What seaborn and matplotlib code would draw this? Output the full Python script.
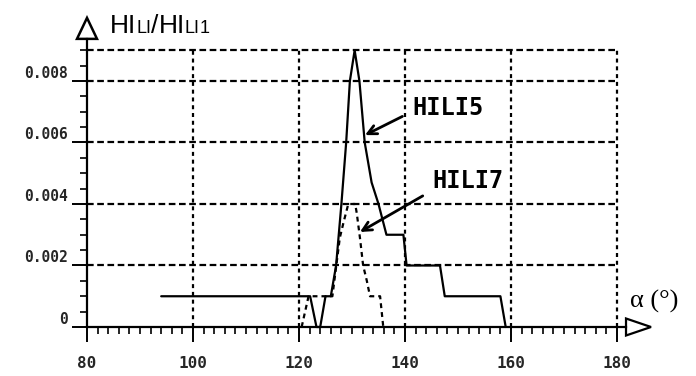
import matplotlib
matplotlib.use("Agg")
import matplotlib.pyplot as plt
from matplotlib.patches import Polygon
from matplotlib.ticker import FixedLocator
import pandas as pd
import seaborn as sns

# Ratio curves against the angle alpha (degrees)
hili5_angle = [94.0, 122.1, 123.3, 124.0, 125.0, 126.0, 127.0, 128.0, 128.9, 129.6,
               130.5, 131.4, 132.4, 133.7, 135.0, 136.5, 139.7, 140.3, 146.6, 147.5,
               158.0, 159.0]
hili5_ratio = [0.001, 0.001, 0.0, 0.0, 0.001, 0.001, 0.002, 0.004, 0.006, 0.008,
               0.009, 0.008, 0.006, 0.0047, 0.004, 0.003, 0.003, 0.002, 0.002, 0.001,
               0.001, 0.0]

hili7_angle = [120.5, 121.8, 126.3, 127.7, 128.4, 129.3, 130.6, 130.9, 131.5, 132.1,
               132.8, 133.4, 135.3, 135.9]
hili7_ratio = [0.0, 0.001, 0.001, 0.0029, 0.0034, 0.004, 0.004, 0.0037, 0.0029, 0.002,
               0.0015, 0.001, 0.001, 0.0]

x_ticks = [80, 100, 120, 140, 160, 180]
x_tick_labels = ["80", "100", "120", "140", "160", "180"]
y_ticks = [0.0, 0.002, 0.004, 0.006, 0.008]
y_tick_labels = ["0", "0.002", "0.004", "0.006", "0.008"]
grid_x = [100, 120, 140, 160, 180]
grid_y = [0.002, 0.004, 0.006, 0.008, 0.009]

sns.set_style("ticks")
plt.rcParams["font.family"] = ["DejaVu Sans"]

W, H = 696, 376
fig = plt.figure(figsize=(W / 100, H / 100), dpi=100)

# Axes placement in pixels: 80 deg sits at x=87, ratio 0 at y=327
XLIM = (80, 186)
YLIM = (-0.00058, 0.0103)
PX_X, PX_Y = 5.3, 30750.0
X0, Y0 = 87, 327
left = X0
right = X0 + (XLIM[1] - XLIM[0]) * PX_X
top = Y0 - YLIM[1] * PX_Y
bottom = Y0 - YLIM[0] * PX_Y
ax = fig.add_axes([left / W, 1 - bottom / H, (right - left) / W, (bottom - top) / H])

# dashed grid, bounded by the 180 deg line and the 0.009 line
ax.hlines(grid_y, 80, 180, colors="black", lw=1.6, linestyles=[(0, (3.0, 1.6))], zorder=1)
ax.vlines(grid_x, 0, 0.009, colors="black", lw=1.6, linestyles=[(0, (1.8, 1.7))], zorder=1)

df5 = pd.DataFrame({"angle": hili5_angle, "ratio": hili5_ratio})
df7 = pd.DataFrame({"angle": hili7_angle, "ratio": hili7_ratio})
sns.lineplot(data=df5, x="angle", y="ratio", ax=ax, color="black", lw=1.6,
             estimator=None, sort=False, legend=False, zorder=3)
sns.lineplot(data=df7, x="angle", y="ratio", ax=ax, color="black", lw=1.6,
             linestyle=(0, (2.2, 1.8)), estimator=None, sort=False, legend=False, zorder=3)

ax.set_xlim(*XLIM)
ax.set_ylim(*YLIM)
ax.set_xlabel("")
ax.set_ylabel("")

for s in ["top", "right"]:
    ax.spines[s].set_visible(False)
ax.spines["left"].set_position(("data", 80))
ax.spines["bottom"].set_position(("data", 0))
y_axis_top = 0.00937
x_axis_end = 181.7
ax.spines["left"].set_bounds(0, y_axis_top)
ax.spines["bottom"].set_bounds(80, x_axis_end)
for s in ["left", "bottom"]:
    ax.spines[s].set_linewidth(1.6)
    ax.spines[s].set_color("black")

ax.xaxis.set_major_locator(FixedLocator(x_ticks))
ax.xaxis.set_minor_locator(FixedLocator(list(range(80, 181, 2))))
ax.yaxis.set_major_locator(FixedLocator(y_ticks))
ax.yaxis.set_minor_locator(FixedLocator([i * 0.0005 for i in range(19)]))
ax.set_xticklabels(x_tick_labels)
ax.set_yticklabels(y_tick_labels)

ax.tick_params(axis="both", which="major", length=11, width=1.4, direction="out", color="black")
ax.tick_params(axis="both", which="minor", length=5, width=1.2, direction="out", color="black")
ax.tick_params(axis="x", which="major", pad=10, labelsize=11.5)
ax.tick_params(axis="y", which="major", pad=3, labelsize=10.5)
for lbl in ax.get_xticklabels() + ax.get_yticklabels():
    lbl.set_fontfamily("DejaVu Sans Mono")
    lbl.set_fontweight("bold")
for lbl in ax.get_yticklabels():
    lbl.set_verticalalignment("bottom")

# open arrowheads at the ends of both axes
hw_x = 10 / PX_X
ax.add_patch(Polygon([(80 - hw_x, y_axis_top), (80 + hw_x, y_axis_top), (80, y_axis_top + 21 / PX_Y)],
                     closed=True, fill=False, ec="black", lw=1.8, clip_on=False, zorder=4))
hh_y = 8.5 / PX_Y
ax.add_patch(Polygon([(x_axis_end, hh_y), (x_axis_end, -hh_y), (x_axis_end + 25 / PX_X, 0)],
                     closed=True, fill=False, ec="black", lw=1.6, clip_on=False, zorder=4))

# hand-lettered curve names with arrows
hand = dict(fontfamily="DejaVu Sans Mono", fontweight="bold", fontsize=17, color="black",
            ha="left", va="center")
ax.annotate("HILI5", xy=(132.45, 0.00624), xytext=(141.3, 0.00712), **hand,
            arrowprops=dict(arrowstyle="->", lw=2.0, color="black", shrinkA=5, shrinkB=0,
                            relpos=(0, 0.35), mutation_scale=16))
ax.annotate("HILI7", xy=(131.5, 0.00309), xytext=(145.1, 0.00475), **hand,
            arrowprops=dict(arrowstyle="->", lw=2.0, color="black", shrinkA=5, shrinkB=0,
                            relpos=(0, 0.1), mutation_scale=16))

# axis titles
renderer = fig.canvas.get_renderer()
pieces = [("HI", 19), ("LI", 13), ("/", 19), ("HI", 19), ("LI", 13), ("1", 13)]
xpos = 110 / W
ybase = 1 - 33 / H
for txt, size in pieces:
    t = fig.text(xpos, ybase, txt, fontsize=size, fontfamily="Liberation Sans",
                 va="baseline", ha="left", color="black")
    xpos += t.get_window_extent(renderer).width / W

fig.text(630 / W, 1 - 308 / H, "α (°)", fontsize=19, fontfamily="Liberation Serif",
         va="baseline", ha="left", color="black")

fig.savefig("out.png", dpi=100, facecolor="white")
